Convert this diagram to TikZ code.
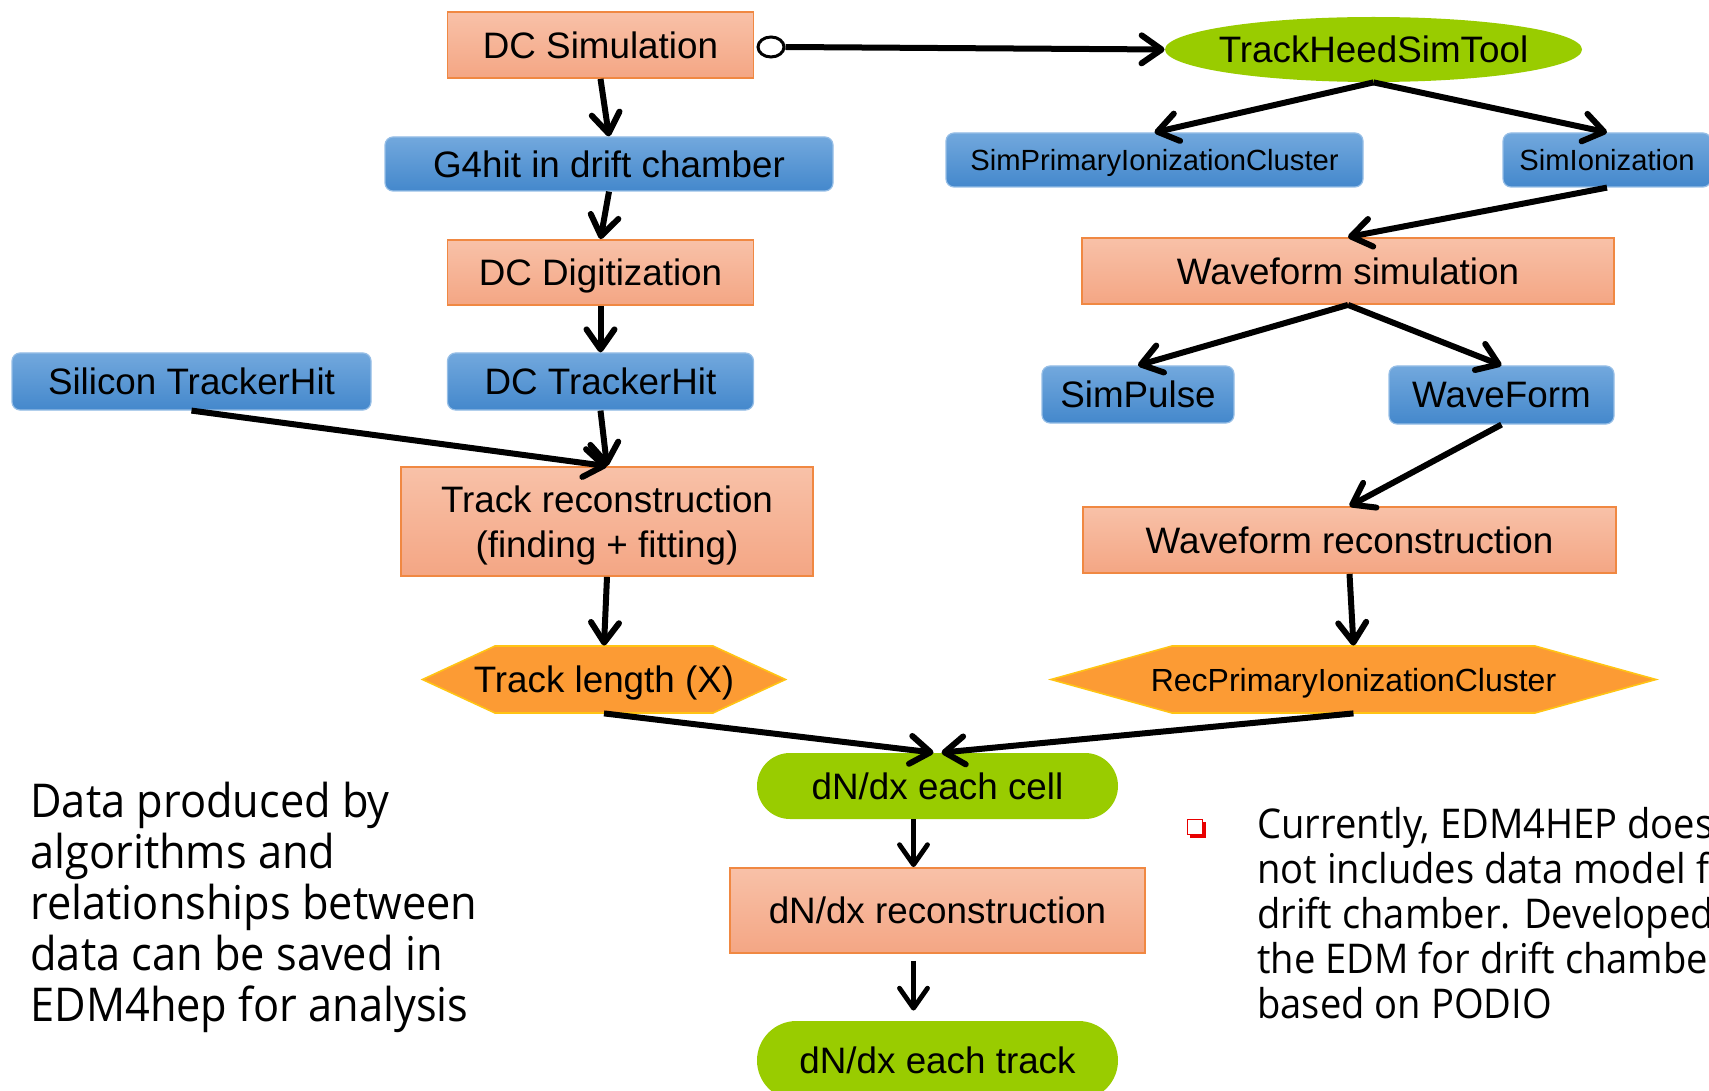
\documentclass[tikz,border=0pt]{standalone}
\usepackage{fontspec}
\setmainfont{Liberation Sans}
\newfontfamily\notefont[FakeStretch=0.93]{Open Sans}
\usetikzlibrary{arrows.meta, shapes.geometric, shapes.misc, backgrounds}

\definecolor{salTop}{RGB}{248,193,168}
\definecolor{salBot}{RGB}{244,166,132}
\definecolor{salLine}{RGB}{240,136,66}
\definecolor{bluTop}{RGB}{114,168,221}
\definecolor{bluBot}{RGB}{68,136,204}
\definecolor{bluLine}{RGB}{150,190,230}
\definecolor{limeFill}{RGB}{153,204,0}
\definecolor{hexFill}{RGB}{252,155,52}
\definecolor{hexLine}{RGB}{255,196,20}
\definecolor{bulletRed}{RGB}{232,0,0}

\begin{document}
\begin{tikzpicture}[
  x=0.5pt, y=-0.5pt,
  box/.style={inner sep=0pt, align=center, text=black, text depth=0pt,
    font=\fontsize{18.4}{22.5}\selectfont},
  smalltext/.style={font=\fontsize{14.6}{16}\selectfont},
  midtext/.style={font=\fontsize{16}{18}\selectfont},
  salmon/.style={box, rectangle, top color=salTop, bottom color=salBot,
    draw=salLine, line width=0.9pt},
  bluebox/.style={box, rectangle, rounded corners=4pt, top color=bluTop,
    bottom color=bluBot, draw=bluLine, line width=0.6pt},
  ovallabel/.style={box, rectangle},
  pill/.style={box, rounded rectangle, fill=limeFill},
  hexlabel/.style={box, rectangle},
  hexshape/.style={fill=hexFill, draw=hexLine, line width=0.8pt},
  ring/.style={ellipse, draw, line width=1.5pt, fill=white,
    minimum width=13pt, minimum height=10pt, inner sep=0pt},
  flow/.style={line width=3pt,
    -{Straight Barb[round, length=10pt, width=14pt]}},
  flowthin/.style={flow, line width=2.4pt},
  notetext/.style={align=left, inner sep=0pt, text=black},
  bulletbox/.style={rectangle, draw=bulletRed, fill=white, line width=0.9pt,
    minimum size=7.5pt, inner sep=0pt}
]
\useasboundingbox (0,0) rectangle (1709,1091);
\clip (0,0) rectangle (1709,1091);

% ---- left column: drift chamber chain
\node[salmon, minimum width=153pt, minimum height=33pt] (dcsim) at (600.5,45) {DC Simulation};
\node[bluebox, minimum width=224pt, minimum height=27pt] (g4) at (609,164) {G4hit in drift chamber};
\node[salmon, minimum width=153pt, minimum height=32.5pt] (dcdig) at (600.5,272.5) {DC Digitization};
\node[bluebox, minimum width=153pt, minimum height=28.5pt] (dcth) at (600.5,381.5) {DC TrackerHit};
\node[bluebox, minimum width=179.5pt, minimum height=28.5pt] (sith) at (191.5,381.5) {Silicon TrackerHit};
\node[salmon, minimum width=206pt, minimum height=54.5pt] (trk) at (607,521.5) {Track reconstruction\\(finding + fitting)};
\node[hexlabel, minimum width=109pt, minimum height=33.5pt] (tlen) at (604,679.5) {Track length (X)};

% ---- right column: ionization simulation chain
\node[ovallabel, minimum width=208.5pt, minimum height=32.5pt] (heed) at (1373.5,49.5) {TrackHeedSimTool};
\node[bluebox, smalltext, minimum width=208.5pt, minimum height=27pt] (simpri) at (1154.5,160) {SimPrimaryIonizationCluster};
\node[bluebox, smalltext, minimum width=104pt, minimum height=27pt] (simion) at (1607,160) {SimIonization};
\node[salmon, minimum width=266pt, minimum height=33pt] (wsim) at (1348,271) {Waveform simulation};
\node[bluebox, minimum width=96pt, minimum height=28.5pt] (spulse) at (1138,394.5) {SimPulse};
\node[bluebox, minimum width=112.5pt, minimum height=29pt] (wform) at (1501.5,395) {WaveForm};
\node[salmon, minimum width=266.5pt, minimum height=33pt] (wrec) at (1349.5,540) {Waveform reconstruction};
\node[hexlabel, midtext, minimum width=181.5pt, minimum height=33.5pt] (recpic) at (1353.5,679.5) {RecPrimaryIonizationCluster};

% ---- dN/dx chain
\node[pill, minimum width=180.5pt, minimum height=33pt] (cell) at (937.5,786) {dN/dx each cell};
\node[salmon, minimum width=207.5pt, minimum height=42.5pt] (dnrec) at (937.5,910.5) {dN/dx reconstruction};
\node[pill, minimum width=180.5pt, minimum height=39.5pt] (dntrk) at (937.5,1060.5) {dN/dx each track};

% ---- shapes drawn behind the labels: the tool ellipse and two data hexagons
\begin{scope}[on background layer]
  \fill[limeFill] (heed.center) ellipse [x radius=104.25pt, y radius=16.25pt];
  \begin{scope}[shift={(tlen.center)}]
    \filldraw[hexshape] (-181.5,0) -- (-109,-33.5) -- (109,-33.5) -- (181.5,0)
      -- (109,33.5) -- (-109,33.5) -- cycle;
  \end{scope}
  \begin{scope}[shift={(recpic.center)}]
    \filldraw[hexshape] (-302.5,0) -- (-181.5,-33.5) -- (181.5,-33.5) -- (302.5,0)
      -- (181.5,33.5) -- (-181.5,33.5) -- cycle;
  \end{scope}
\end{scope}

% ---- aggregation end of the simulation link
\node[ring] (ring) at (771,47) {};

% ---- connectors
\draw[flow] (dcsim.south) -- (g4.north);
\draw[flow] (g4.south) -- (dcdig.north);
\draw[flow] (dcdig.south) -- (dcth.north);
\draw[flow] (dcth.south) -- (trk.north);
\draw[flow] (sith.south) -- (trk.north);
\draw[flow] (trk.south) -- (tlen.north);
\draw[flow] (tlen.south) -- ([xshift=-2pt]cell.north);
\draw[flow] (recpic.south) -- ([xshift=2pt]cell.north);
\draw[flowthin] ([xshift=-12pt]cell.south) -- ([xshift=-12pt]dnrec.north);
\draw[flowthin] ([xshift=-12pt,yshift=-3.5pt]dnrec.south) -- ([xshift=-12pt,yshift=5pt]dntrk.north);
\draw[flow] (ring.east) -- (heed.west);
\draw[flow] (heed.south) -- (simpri.north);
\draw[flow] (heed.south) -- (simion.north);
\draw[flow] (simion.south) -- (wsim.north);
\draw[flow] (wsim.south) -- (spulse.north);
\draw[flow] (wsim.south) -- (wform.north);
\draw[flow] (wform.south) -- (wrec.north);
\draw[flow] (wrec.south) -- (recpic.north);

% ---- explanatory text (anchored on the baseline of the last line)
\node[notetext, anchor=base west, font=\notefont\fontsize{23.3}{25.5}\selectfont] (note) at (30,1021)
  {Data produced by\\algorithms and\\relationships between\\data can be saved in\\EDM4hep for analysis};

\node[bulletbox] (mark) at (1195,827) {};
\begin{scope}[on background layer]
  \fill[bulletRed] ([shift={(1.5pt,-1.5pt)}]mark.south west) rectangle ([shift={(1.5pt,-1.5pt)}]mark.north east);
\end{scope}
\node[notetext, anchor=base west, font=\notefont\fontsize{20.5}{22.4}\selectfont] (remark) at (1257,1018)
  {Currently, EDM4HEP does\\not includes data model for\\drift chamber. Developed\\the EDM for drift chamber\\based on PODIO};
\end{tikzpicture}
\end{document}
